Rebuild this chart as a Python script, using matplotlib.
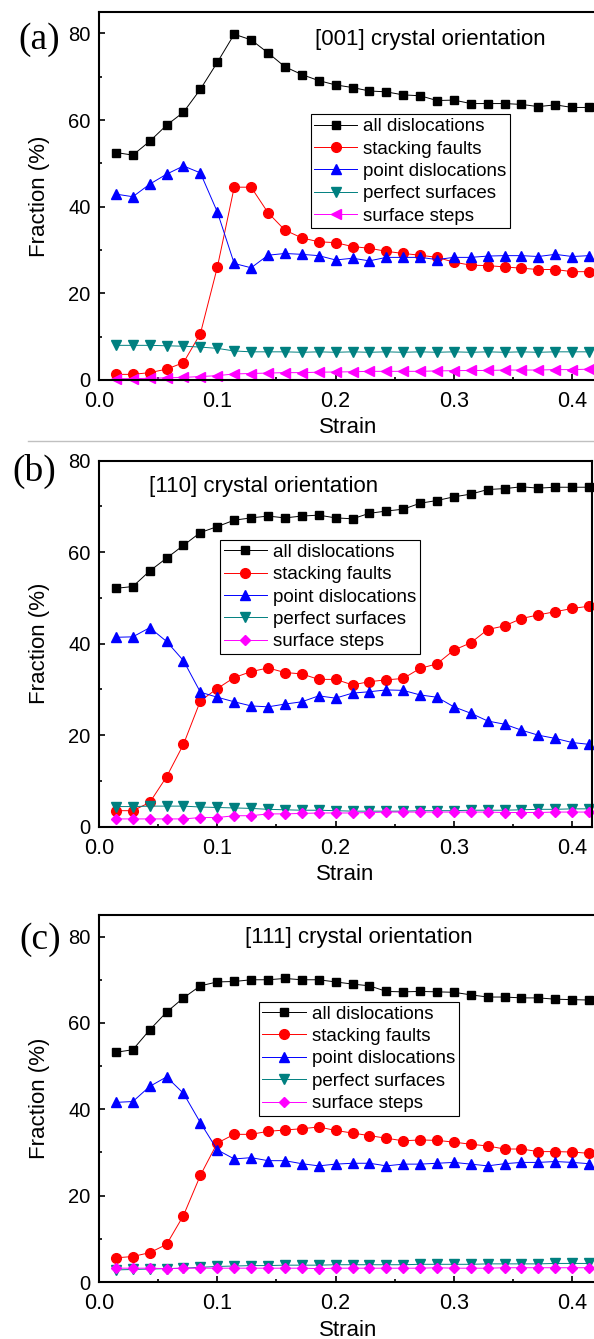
import matplotlib
matplotlib.use("Agg")
import matplotlib.pyplot as plt
from matplotlib.ticker import MultipleLocator
from matplotlib.lines import Line2D

plt.rcParams['font.family'] = ['Liberation Sans', 'DejaVu Sans']

# Strain sampling (shared by all three orientations)
strain = [0.0143, 0.0286, 0.0429, 0.0571, 0.0714, 0.0857, 0.1000, 0.1143,
          0.1286, 0.1429, 0.1571, 0.1714, 0.1857, 0.2000, 0.2143, 0.2286,
          0.2429, 0.2571, 0.2714, 0.2857, 0.3000, 0.3143, 0.3286, 0.3429,
          0.3571, 0.3714, 0.3857, 0.4000, 0.4143]

labels = ["all dislocations", "stacking faults", "point dislocations",
          "perfect surfaces", "surface steps"]

# [001] orientation
a_all = [52.5, 51.9, 55.1, 58.8, 61.8, 67.1, 73.3, 79.8, 78.5, 75.5, 72.3,
         70.5, 69.1, 68.1, 67.5, 66.7, 66.5, 65.8, 65.6, 64.5, 64.6, 63.8,
         63.8, 63.8, 63.6, 63.1, 63.5, 62.9, 62.9]
a_sf = [1.3, 1.3, 1.7, 2.5, 4.0, 10.7, 26.0, 44.5, 44.5, 38.6, 34.6, 32.8,
        31.9, 31.7, 30.8, 30.4, 29.7, 29.2, 28.8, 28.3, 27.2, 26.5, 26.4,
        26.1, 25.8, 25.5, 25.5, 25.0, 25.0]
a_pd = [42.9, 42.3, 45.2, 47.5, 49.4, 47.8, 38.8, 26.9, 25.9, 28.8, 29.2,
        29.0, 28.7, 27.7, 28.1, 27.5, 28.3, 28.3, 28.3, 27.8, 28.3, 28.3,
        28.6, 28.7, 28.7, 28.5, 29.0, 28.5, 28.7]
a_ps = [8.0, 8.0, 8.0, 7.9, 7.8, 7.6, 7.3, 6.7, 6.5, 6.5, 6.5, 6.4, 6.5,
        6.4, 6.5, 6.4, 6.5, 6.4, 6.5, 6.4, 6.5, 6.4, 6.5, 6.4, 6.5, 6.4,
        6.5, 6.5, 6.5]
a_ss = [0.3, 0.3, 0.4, 0.5, 0.6, 0.8, 1.0, 1.4, 1.5, 1.6, 1.7, 1.7, 1.8,
        1.85, 1.9, 2.0, 2.0, 2.0, 2.0, 2.1, 2.15, 2.2, 2.2, 2.3, 2.3, 2.3,
        2.4, 2.4, 2.5]

# [110] orientation
b_all = [52.1, 52.5, 55.9, 58.7, 61.5, 64.3, 65.6, 67.0, 67.5, 67.9, 67.5,
         67.9, 68.1, 67.5, 67.3, 68.5, 69.0, 69.4, 70.7, 71.3, 72.1, 72.7,
         73.7, 73.9, 74.3, 74.0, 74.2, 74.2, 74.2]
b_sf = [3.5, 3.5, 5.3, 10.9, 18.0, 27.5, 30.2, 32.6, 33.9, 34.7, 33.7,
        33.4, 32.2, 32.2, 31.0, 31.7, 32.1, 32.4, 34.6, 35.6, 38.6, 40.2,
        43.1, 43.9, 45.5, 46.3, 47.0, 47.7, 48.2]
b_pd = [41.4, 41.5, 43.5, 40.5, 36.3, 29.4, 28.3, 27.3, 26.4, 26.2, 26.8,
        27.3, 28.6, 28.1, 29.2, 29.5, 29.9, 29.8, 28.8, 28.3, 26.2, 24.8,
        23.1, 22.4, 21.1, 20.0, 19.3, 18.4, 18.0]
b_ps = [4.4, 4.4, 4.5, 4.5, 4.5, 4.3, 4.2, 4.1, 4.0, 3.8, 3.7, 3.6, 3.6,
        3.5, 3.4, 3.4, 3.4, 3.4, 3.5, 3.5, 3.5, 3.6, 3.6, 3.6, 3.7, 3.8,
        3.8, 3.9, 3.9]
b_ss = [1.7, 1.7, 1.7, 1.7, 1.7, 2.0, 2.0, 2.4, 2.4, 2.8, 2.8, 2.9, 3.0,
        3.0, 3.0, 3.1, 3.2, 3.2, 3.2, 3.2, 3.2, 3.2, 3.2, 3.1, 3.1, 3.1,
        3.2, 3.2, 3.2]

# [111] orientation
c_all = [53.2, 53.8, 58.4, 62.5, 65.8, 68.6, 69.5, 69.6, 70.0, 70.0, 70.3,
         70.0, 70.0, 69.5, 69.0, 68.6, 67.3, 67.2, 67.3, 67.2, 67.1, 66.5,
         66.0, 66.0, 65.8, 65.8, 65.5, 65.4, 65.3]
c_sf = [5.6, 5.9, 6.8, 8.7, 15.4, 24.7, 32.2, 34.2, 34.2, 34.9, 35.2, 35.5,
        35.9, 35.1, 34.5, 33.9, 33.3, 32.7, 32.9, 32.8, 32.4, 31.9, 31.5,
        30.8, 30.8, 30.2, 30.2, 30.1, 29.8]
c_pd = [41.6, 41.8, 45.3, 47.5, 43.7, 36.9, 30.6, 28.5, 28.8, 28.1, 28.1,
        27.4, 26.9, 27.3, 27.5, 27.5, 26.9, 27.3, 27.3, 27.5, 27.7, 27.3,
        26.9, 27.4, 27.7, 27.7, 27.9, 27.7, 27.4]
c_ps = [2.8, 2.9, 3.0, 3.1, 3.2, 3.4, 3.6, 3.7, 3.8, 3.8, 3.9, 3.9, 3.9,
        4.0, 4.0, 4.0, 4.0, 4.0, 4.1, 4.1, 4.1, 4.1, 4.2, 4.2, 4.2, 4.2,
        4.3, 4.3, 4.3]
c_ss = [3.2, 3.2, 3.2, 3.1, 3.2, 3.2, 3.2, 3.2, 3.2, 3.2, 3.2, 3.2, 3.1,
        3.2, 3.2, 3.2, 3.2, 3.2, 3.2, 3.3, 3.2, 3.2, 3.2, 3.3, 3.3, 3.3,
        3.3, 3.3, 3.3]

colors = ["#000000", "#ff0000", "#0000ff", "#008080", "#ff00ff"]

W, H = 594, 1339
fig = plt.figure(figsize=(W / 100, H / 100), dpi=100)


def fx(px):
    return px / W


def fy(py):
    return 1 - py / H


panels = [
    dict(tag="(a)", title="[001] crystal orientation",
         series=[a_all, a_sf, a_pd, a_ps, a_ss],
         markers=["s", "o", "^", "v", "<"],
         top=11.7, bottom=380.0, ymax=85, xmax=0.421,
         title_xy=(430, 40), tag_xy=(39, 40),
         leg_xy=(310.6, 114.3)),
    dict(tag="(b)", title="[110] crystal orientation",
         series=[b_all, b_sf, b_pd, b_ps, b_ss],
         markers=["s", "o", "^", "v", "D"],
         top=460.7, bottom=826.7, ymax=80, xmax=0.4165,
         title_xy=(264, 487), tag_xy=(34, 471),
         leg_xy=(220.0, 540.0)),
    dict(tag="(c)", title="[111] crystal orientation",
         series=[c_all, c_sf, c_pd, c_ps, c_ss],
         markers=["s", "o", "^", "v", "D"],
         top=915.0, bottom=1282.0, ymax=85, xmax=0.421,
         title_xy=(359, 937), tag_xy=(40, 940),
         leg_xy=(258.7, 1001.7)),
]

msizes = {"s": 5.5, "o": 7, "^": 7.5, "v": 7.5, "<": 7.5, "D": 5.5}
left_px = 99.0
px_per_unit = 1183.0

for p in panels:
    width_px = p["xmax"] * px_per_unit
    ax = fig.add_axes([fx(left_px), fy(p["bottom"]),
                       width_px / W, (p["bottom"] - p["top"]) / H])
    handles = []
    for vals, col, mk, lab in zip(p["series"], colors, p["markers"], labels):
        h, = ax.plot(strain, vals, color=col, lw=0.7, marker=mk,
                     ms=msizes[mk], mec=col, mfc=col, label=lab,
                     clip_on=False)
        handles.append(h)

    ax.set_xlim(0, p["xmax"])
    ax.set_ylim(0, p["ymax"])
    ax.xaxis.set_major_locator(MultipleLocator(0.1))
    ax.xaxis.set_minor_locator(MultipleLocator(0.05))
    ax.yaxis.set_major_locator(MultipleLocator(20))
    ax.yaxis.set_minor_locator(MultipleLocator(10))
    ax.tick_params(which="both", direction="in", top=False, right=False,
                   width=1.2, color="black")
    ax.tick_params(which="major", length=4)
    ax.tick_params(which="minor", length=2.5)
    ax.tick_params(axis="x", labelsize=15.5, pad=8)
    ax.tick_params(axis="y", labelsize=14.5, pad=6)
    for sp in ax.spines.values():
        sp.set_linewidth(1.5)

    ax.set_xlabel("Strain", fontsize=16)
    ax.xaxis.label.set_va("center")
    ax.xaxis.set_label_coords(0.5, -48.0 / (p["bottom"] - p["top"]))
    ax.set_ylabel("Fraction (%)", fontsize=16)
    ax.yaxis.label.set_va("center")
    ax.yaxis.set_label_coords(-59.0 / width_px, 0.5)

    leg = ax.legend(handles=handles, loc="upper left",
                    bbox_to_anchor=(fx(p["leg_xy"][0]), fy(p["leg_xy"][1])),
                    bbox_transform=fig.transFigure, fontsize=13.5,
                    frameon=True, fancybox=False, shadow=False,
                    borderpad=0.2, labelspacing=0.28, handlelength=2.3,
                    handletextpad=0.32, borderaxespad=0.0)
    leg.get_frame().set_edgecolor("black")
    leg.get_frame().set_linewidth(0.8)
    leg.get_frame().set_alpha(1)

    fig.text(fx(p["title_xy"][0]), fy(p["title_xy"][1]), p["title"],
             fontsize=16, ha="center", va="center")
    fig.text(fx(p["tag_xy"][0]), fy(p["tag_xy"][1]), p["tag"],
             fontsize=27, ha="center", va="center",
             family=["Liberation Serif", "DejaVu Serif"])

# thin separator between the first two panels
fig.add_artist(Line2D([fx(28), 1.0], [fy(441), fy(441)],
                      transform=fig.transFigure, color="#c0c0c0", lw=1.0))

fig.savefig("out.png", dpi=100)
